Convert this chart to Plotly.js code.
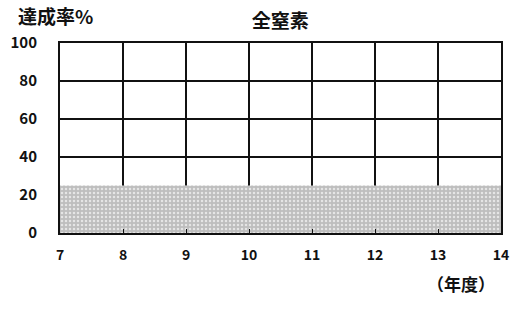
<!DOCTYPE html>
<html><head><meta charset="utf-8">
<script src="https://cdn.plot.ly/plotly-3.0.1.min.js"></script>
<style>html,body{margin:0;padding:0;background:#fff}#c{width:515px;height:311px}</style>
</head><body><div id="c"></div>
<script>
const years = [7, 8, 9, 10, 11, 12, 13, 14];
const rate = [25, 25, 25, 25, 25, 25, 25, 25];
const yTicks = [0, 20, 40, 60, 80, 100];
const titleText = "全窒素";
const yLabel = "達成率%";
const xLabel = "（年度）";

const font = "'Noto Sans CJK JP', 'DejaVu Sans', sans-serif";
Plotly.newPlot('c', [{
  x: years, y: rate, type: 'scatter', mode: 'lines',
  fill: 'tozeroy', line: {width: 0, color: '#c4c4c4'},
  fillcolor: '#c4c4c4',
  fillpattern: {shape: '.', fgcolor: '#e6e6e6', bgcolor: '#bebebe', size: 4, solidity: 0.3},
  hoverinfo: 'skip', showlegend: false
}], {
  width: 515, height: 311,
  margin: {l: 60, r: 14, t: 43, b: 78},
  paper_bgcolor: '#fff', plot_bgcolor: '#fff',
  font: {family: font, size: 14, color: '#111', weight: 'bold'},
  title: {text: titleText, x: 0.544, xanchor: 'center', y: 0.93, yanchor: 'middle', font: {size: 19, family: font, color: '#111', weight: 'bold'}},
  xaxis: {range: [7, 14], tickvals: years, ticktext: years.map(String), showgrid: true, gridcolor: '#111', gridwidth: 1.5,
    showline: true, linecolor: '#111', linewidth: 2, mirror: true, ticks: 'inside', ticklen: 4, tickcolor: '#111',
    ticklabelstandoff: 8, zeroline: false, fixedrange: true,
    tickfont: {size: 14, family: font, color: '#111', weight: 'bold'}},
  yaxis: {range: [0, 100], tickvals: yTicks, showgrid: true, gridcolor: '#111', gridwidth: 1.5,
    showline: true, linecolor: '#111', linewidth: 2, mirror: true, ticks: '', ticklabelstandoff: 18,
    zeroline: false, fixedrange: true,
    tickfont: {size: 15, family: font, color: '#111', weight: 'bold'}},
  annotations: [
    {text: yLabel, xref: 'paper', yref: 'paper', x: -0.1, y: 1.145, xanchor: 'left', yanchor: 'middle', showarrow: false, font: {size: 19, family: font, color: '#111', weight: 'bold'}},
    {text: xLabel, xref: 'paper', yref: 'paper', x: 0.99, y: -0.265, xanchor: 'right', yanchor: 'middle', showarrow: false, font: {size: 17, family: font, color: '#111', weight: 'bold'}}
  ]
}, {displayModeBar: false, staticPlot: true});
</script></body></html>
